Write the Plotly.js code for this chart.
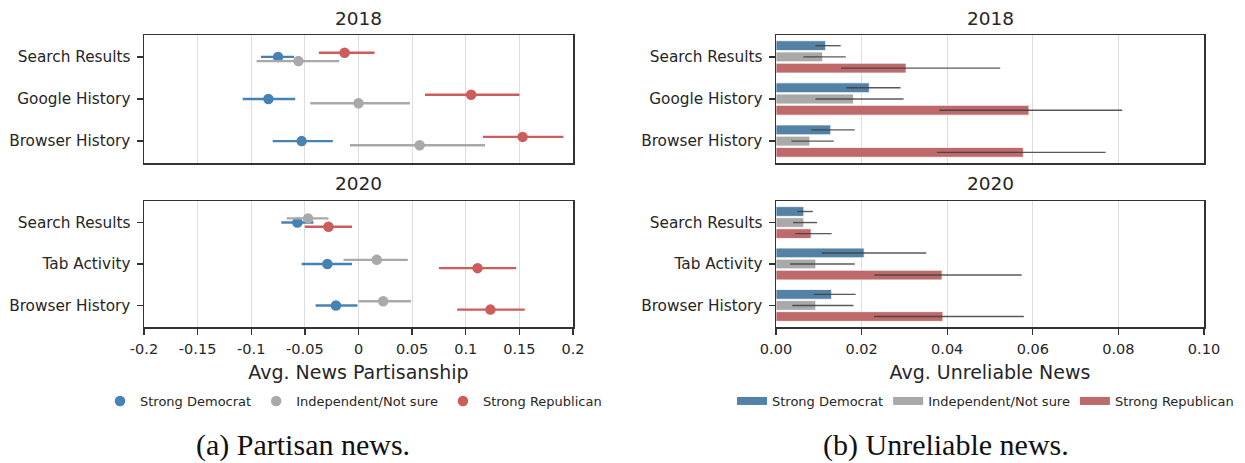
<!DOCTYPE html>
<html>
<head>
<meta charset="utf-8">
<script src="https://cdn.plot.ly/plotly-3.0.1.min.js"></script>
<style>html,body{margin:0;padding:0;background:#fff;}#chart{width:1245px;height:463px;}</style>
</head>
<body>
<div id="chart"></div>
<script>
// ---------- data ----------
const cats2018 = ["Search Results", "Google History", "Browser History"];
const cats2020 = ["Search Results", "Tab Activity", "Browser History"];
const groupNames = ["Strong Democrat", "Independent/Not sure", "Strong Republican"];

// (a) Avg. news partisanship, 2018
const part2018Dem = [-0.075, -0.084, -0.053];
const part2018DemLo = [-0.091, -0.108, -0.080];
const part2018DemHi = [-0.060, -0.059, -0.024];
const part2018Ind = [-0.056, 0.000, 0.057];
const part2018IndLo = [-0.095, -0.045, -0.008];
const part2018IndHi = [-0.018, 0.048, 0.118];
const part2018Rep = [-0.013, 0.105, 0.153];
const part2018RepLo = [-0.037, 0.062, 0.116];
const part2018RepHi = [0.015, 0.150, 0.191];

// (a) Avg. news partisanship, 2020
const part2020Dem = [-0.057, -0.029, -0.021];
const part2020DemLo = [-0.072, -0.053, -0.040];
const part2020DemHi = [-0.042, -0.006, -0.001];
const part2020Ind = [-0.047, 0.017, 0.023];
const part2020IndLo = [-0.067, -0.014, 0.000];
const part2020IndHi = [-0.028, 0.046, 0.049];
const part2020Rep = [-0.028, 0.111, 0.123];
const part2020RepLo = [-0.050, 0.075, 0.092];
const part2020RepHi = [-0.006, 0.147, 0.155];

// (b) Avg. unreliable news, 2018
const unrel2018Dem = [0.0116, 0.0218, 0.0128];
const unrel2018DemLo = [0.0092, 0.0164, 0.0083];
const unrel2018DemHi = [0.0151, 0.0291, 0.0184];
const unrel2018Ind = [0.0109, 0.0181, 0.0079];
const unrel2018IndLo = [0.0064, 0.0092, 0.0036];
const unrel2018IndHi = [0.0163, 0.0298, 0.0135];
const unrel2018Rep = [0.0304, 0.0591, 0.0578];
const unrel2018RepLo = [0.0152, 0.0382, 0.0376];
const unrel2018RepHi = [0.0524, 0.0809, 0.0770];

// (b) Avg. unreliable news, 2020
const unrel2020Dem = [0.0065, 0.0206, 0.0130];
const unrel2020DemLo = [0.0050, 0.0107, 0.0089];
const unrel2020DemHi = [0.0086, 0.0351, 0.0186];
const unrel2020Ind = [0.0065, 0.0093, 0.0093];
const unrel2020IndLo = [0.0040, 0.0033, 0.0038];
const unrel2020IndHi = [0.0096, 0.0184, 0.0181];
const unrel2020Rep = [0.0082, 0.0388, 0.0390];
const unrel2020RepLo = [0.0045, 0.0230, 0.0229];
const unrel2020RepHi = [0.0130, 0.0574, 0.0579];

const partTickVals = [-0.2, -0.15, -0.1, -0.05, 0, 0.05, 0.1, 0.15, 0.2];
const partTickText = ["-0.2", "-0.15", "-0.1", "-0.05", "0", "0.05", "0.1", "0.15", "0.2"];
const unrelTickVals = [0, 0.02, 0.04, 0.06, 0.08, 0.1];
const unrelTickText = ["0.00", "0.02", "0.04", "0.06", "0.08", "0.10"];

// ---------- styling ----------
const pointColors = ["#4682b4", "#a9a9a9", "#cd5c5c"];
const barColors = ["#5481a6", "#a9a9a9", "#bf6a6a"];
const textColor = "#262626";
const FONT = "DejaVu Sans";
const idx = [0, 1, 2];

const plus = (m, hi) => hi.map((h, i) => h - m[i]);
const minus = (m, lo) => lo.map((l, i) => m[i] - l);

function pointTrace(name, mean, lo, hi, color, offset, xa, ya, showleg) {
  return {
    type: "scatter", mode: "markers", name: name,
    x: mean, y: idx.map(i => i + offset),
    xaxis: xa, yaxis: ya,
    marker: {color: color, size: 10.5},
    error_x: {type: "data", symmetric: false, array: plus(mean, hi), arrayminus: minus(mean, lo),
              color: color, thickness: 2.4, width: 0},
    showlegend: showleg, legend: "legend", hoverinfo: "x"
  };
}
function barTrace(name, mean, lo, hi, color, xa, ya) {
  return {
    type: "bar", orientation: "h", name: name,
    x: mean, y: idx, xaxis: xa, yaxis: ya,
    marker: {color: color, line: {color: "#ffffff", width: 0.8}},
    error_x: {type: "data", symmetric: false, array: plus(mean, hi), arrayminus: minus(mean, lo),
              color: "rgba(60,60,60,0.85)", thickness: 1.4, width: 0},
    showlegend: false
  };
}

const off2018 = [0, 0.1, -0.1];
const off2020 = [0, -0.1, 0.1];

const traces = [
  pointTrace(groupNames[0], part2018Dem, part2018DemLo, part2018DemHi, pointColors[0], off2018[0], "x", "y", true),
  pointTrace(groupNames[1], part2018Ind, part2018IndLo, part2018IndHi, pointColors[1], off2018[1], "x", "y", true),
  pointTrace(groupNames[2], part2018Rep, part2018RepLo, part2018RepHi, pointColors[2], off2018[2], "x", "y", true),
  pointTrace(groupNames[0], part2020Dem, part2020DemLo, part2020DemHi, pointColors[0], off2020[0], "x2", "y2", false),
  pointTrace(groupNames[1], part2020Ind, part2020IndLo, part2020IndHi, pointColors[1], off2020[1], "x2", "y2", false),
  pointTrace(groupNames[2], part2020Rep, part2020RepLo, part2020RepHi, pointColors[2], off2020[2], "x2", "y2", false),
  barTrace(groupNames[0], unrel2018Dem, unrel2018DemLo, unrel2018DemHi, barColors[0], "x3", "y3"),
  barTrace(groupNames[1], unrel2018Ind, unrel2018IndLo, unrel2018IndHi, barColors[1], "x3", "y3"),
  barTrace(groupNames[2], unrel2018Rep, unrel2018RepLo, unrel2018RepHi, barColors[2], "x3", "y3"),
  barTrace(groupNames[0], unrel2020Dem, unrel2020DemLo, unrel2020DemHi, barColors[0], "x4", "y4"),
  barTrace(groupNames[1], unrel2020Ind, unrel2020IndLo, unrel2020IndHi, barColors[1], "x4", "y4"),
  barTrace(groupNames[2], unrel2020Rep, unrel2020RepLo, unrel2020RepHi, barColors[2], "x4", "y4")
];
// legend entries for the bar panels (wide patches)
groupNames.forEach((n, i) => traces.push({
  type: "scatter", mode: "lines", name: n, x: [null], y: [null], xaxis: "x3", yaxis: "y3",
  line: {color: barColors[i], width: 8}, showlegend: true, legend: "legend2", hoverinfo: "skip"
}));

const W = 1245, H = 463;
const dx = (a, b) => [a / W, b / W];
const dy = (top, bot) => [1 - bot / H, 1 - top / H];

const frame = {showline: true, mirror: true, linecolor: "#333333", linewidth: 1.5, zeroline: false};
function xax(domain, anchor, range, tv, tt, labels, title) {
  const a = Object.assign({}, frame, {
    domain: domain, anchor: anchor, range: range, fixedrange: true,
    tickmode: "array", tickvals: tv, ticktext: tt, showticklabels: labels,
    ticks: labels ? "outside" : "", ticklen: 6, tickwidth: 1.3, tickcolor: "#333333",
    showgrid: true, gridcolor: "#dddddd", gridwidth: 1, ticklabelstandoff: 2,
    tickfont: {family: FONT, size: 14.5, color: textColor}
  });
  if (title) a.title = {text: title, font: {family: FONT, size: 19, color: textColor}, standoff: 10};
  return a;
}
function yax(domain, anchor, cats) {
  return Object.assign({}, frame, {
    domain: domain, anchor: anchor, range: [2.52, -0.52], fixedrange: true,
    tickmode: "array", tickvals: idx, ticktext: cats,
    ticks: "outside", ticklen: 6, tickwidth: 1.3, tickcolor: "#333333",
    showgrid: false, ticklabelstandoff: 3,
    tickfont: {family: FONT, size: 15.3, color: textColor}
  });
}

const layout = {
  width: W, height: H,
  margin: {l: 0, r: 0, t: 0, b: 0},
  paper_bgcolor: "#ffffff", plot_bgcolor: "#ffffff",
  font: {family: FONT, color: textColor},
  barmode: "group", bargap: 0.2, bargroupgap: 0.12,
  xaxis: xax(dx(144, 573), "y", [-0.2, 0.2], partTickVals, partTickText, false),
  yaxis: yax(dy(35, 163), "x", cats2018),
  xaxis2: xax(dx(144, 573), "y2", [-0.2, 0.2], partTickVals, partTickText, true, "Avg. News Partisanship"),
  yaxis2: yax(dy(201, 327), "x2", cats2020),
  xaxis3: xax(dx(776, 1204), "y3", [0, 0.1], unrelTickVals, unrelTickText, false),
  yaxis3: yax(dy(35, 163), "x3", cats2018),
  xaxis4: xax(dx(776, 1204), "y4", [0, 0.1], unrelTickVals, unrelTickText, true, "Avg. Unreliable News"),
  yaxis4: yax(dy(201, 327), "x4", cats2020),
  legend: {orientation: "h", x: 100 / W, xanchor: "left", y: 1 - 401 / H, yanchor: "middle",
           font: {family: FONT, size: 13, color: textColor}, bgcolor: "rgba(0,0,0,0)"},
  legend2: {orientation: "h", x: 732 / W, xanchor: "left", y: 1 - 401 / H, yanchor: "middle",
            font: {family: FONT, size: 13, color: textColor}, bgcolor: "rgba(0,0,0,0)"},
  annotations: [
    {text: "2018", x: 358.5 / W, y: 1 - 18 / H, xref: "paper", yref: "paper", showarrow: false,
     xanchor: "center", yanchor: "middle", font: {family: FONT, size: 18.5, color: textColor}},
    {text: "2020", x: 358.5 / W, y: 1 - 183 / H, xref: "paper", yref: "paper", showarrow: false,
     xanchor: "center", yanchor: "middle", font: {family: FONT, size: 18.5, color: textColor}},
    {text: "2018", x: 990 / W, y: 1 - 18 / H, xref: "paper", yref: "paper", showarrow: false,
     xanchor: "center", yanchor: "middle", font: {family: FONT, size: 18.5, color: textColor}},
    {text: "2020", x: 990 / W, y: 1 - 183 / H, xref: "paper", yref: "paper", showarrow: false,
     xanchor: "center", yanchor: "middle", font: {family: FONT, size: 18.5, color: textColor}},
    {text: "(a) Partisan news.", x: 303 / W, y: 1 - 445 / H, xref: "paper", yref: "paper", showarrow: false,
     xanchor: "center", yanchor: "middle", font: {family: "Liberation Serif", size: 30, color: "#111111"}},
    {text: "(b) Unreliable news.", x: 946 / W, y: 1 - 445 / H, xref: "paper", yref: "paper", showarrow: false,
     xanchor: "center", yanchor: "middle", font: {family: "Liberation Serif", size: 30, color: "#111111"}}
  ]
};

Plotly.newPlot("chart", traces, layout, {staticPlot: true, displayModeBar: false});
</script>
</body>
</html>
